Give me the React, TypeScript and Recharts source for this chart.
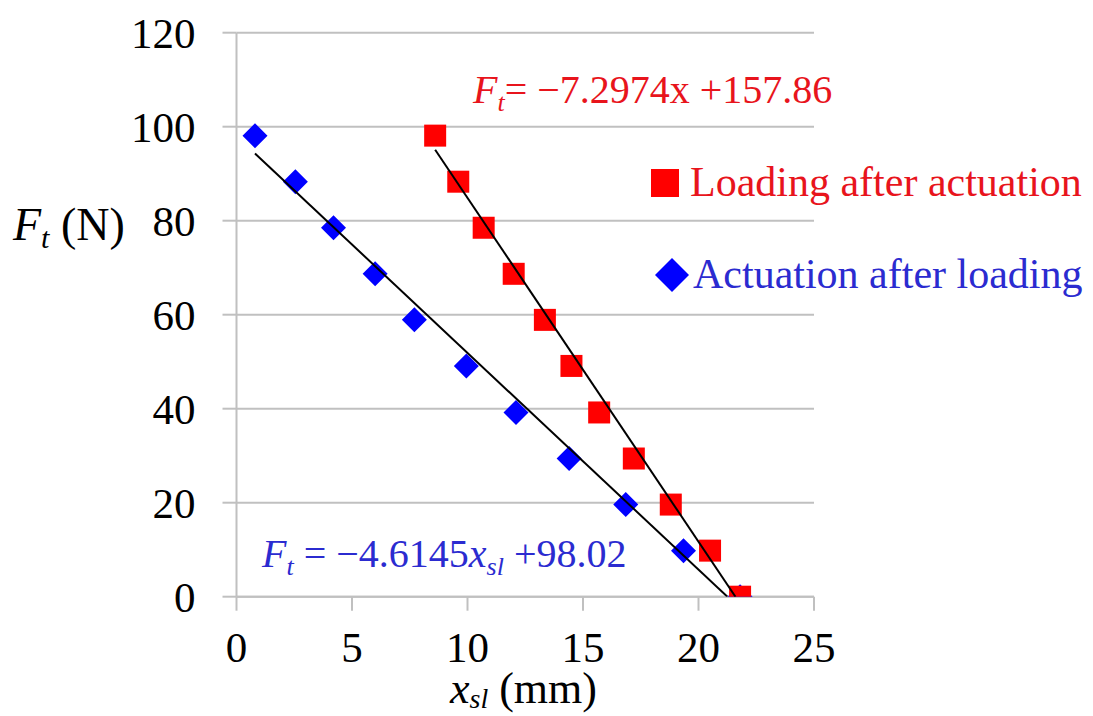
import React from 'react';
import { ScatterChart, Scatter, XAxis, YAxis, CartesianGrid } from 'recharts';

// Data
const forceValues = [98.1, 88.3, 78.5, 68.7, 58.9, 49.1, 39.2, 29.4, 19.6, 9.8, 0];
const blueXs = [0.8, 2.55, 4.2, 6.0, 7.7, 9.95, 12.1, 14.4, 16.85, 19.35, 21.8];
const redXs = [8.6, 9.6, 10.7, 12.0, 13.35, 14.5, 15.7, 17.2, 18.8, 20.5, 21.8];

// Trendline end points (as drawn in the picture)
const blueFitXs = [0.8, 21.25];
const blueFitYs = [94.3, 0];
const redFitXs = [8.6, 21.6];
const redFitYs = [95.1, 0];

const xTicks = [0, 5, 10, 15, 20, 25];
const yTicks = [0, 20, 40, 60, 80, 100, 120];

const blueData = blueXs.map((x, i) => ({ x, y: forceValues[i] }));
const redData = redXs.map((x, i) => ({ x, y: forceValues[i] }));
const blueFit = blueFitXs.map((x, i) => ({ x, y: blueFitYs[i] }));
const redFit = redFitXs.map((x, i) => ({ x, y: redFitYs[i] }));

const FONT = '"Liberation Serif", "Times New Roman", serif';
const GRID = '#c0c0c0';

const Square = (props: any) => {
  const { cx, cy } = props;
  if (cx == null || cy == null) return null;
  return <rect x={cx - 11} y={cy - 11} width={22} height={22} fill="#ff0000" />;
};

const Diamond = (props: any) => {
  const { cx, cy } = props;
  if (cx == null || cy == null) return null;
  const r = 12.5;
  return (
    <polygon
      points={`${cx},${cy - r} ${cx + r},${cy} ${cx},${cy + r} ${cx - r},${cy}`}
      fill="#0000ff"
    />
  );
};

const NoShape = () => null;

export default function App() {
  const W = 1093;
  const H = 716;
  return (
    <div style={{ position: 'absolute', left: 0, top: 0, width: W, height: H, background: '#fff' }}>
      <ScatterChart
        width={W}
        height={H}
        margin={{ top: 32.7, right: 279, bottom: 59.3, left: 0 }}
      >
        <CartesianGrid vertical={false} stroke={GRID} strokeWidth={2} />
        <XAxis
          type="number"
          dataKey="x"
          domain={[0, 25]}
          ticks={xTicks}
          height={60}
          tickSize={14}
          tickMargin={21}
          axisLine={{ stroke: GRID, strokeWidth: 2 }}
          tickLine={{ stroke: GRID, strokeWidth: 2 }}
          tick={{ fill: '#000', fontSize: 43, fontFamily: FONT }}
          allowDataOverflow
        />
        <YAxis
          type="number"
          dataKey="y"
          domain={[0, 120]}
          ticks={yTicks}
          width={236.5}
          tickSize={14}
          tickMargin={27}
          axisLine={{ stroke: GRID, strokeWidth: 2 }}
          tickLine={{ stroke: GRID, strokeWidth: 2 }}
          tick={{ fill: '#000', fontSize: 43, fontFamily: FONT }}
          allowDataOverflow
        />
        <Scatter data={blueData} shape={<Diamond />} isAnimationActive={false} />
        <Scatter data={redData} shape={<Square />} isAnimationActive={false} />
        <Scatter
          data={blueFit}
          shape={<NoShape />}
          line={{ stroke: '#000', strokeWidth: 2 }}
          isAnimationActive={false}
        />
        <Scatter
          data={redFit}
          shape={<NoShape />}
          line={{ stroke: '#000', strokeWidth: 2 }}
          isAnimationActive={false}
        />
      </ScatterChart>
      <svg
        width={W}
        height={H}
        style={{ position: 'absolute', left: 0, top: 0, pointerEvents: 'none' }}
        fontFamily={FONT}
      >
        {/* Y axis title */}
        <text x={13} y={240} fontSize={46} fill="#000">
          <tspan fontStyle="italic">F</tspan>
          <tspan fontStyle="italic" fontSize={30} dy={8}>t</tspan>
          <tspan dy={-8}> (N)</tspan>
        </text>
        {/* X axis title */}
        <text x={450} y={703} fontSize={44} fill="#000">
          <tspan fontStyle="italic">x</tspan>
          <tspan fontStyle="italic" fontSize={28} dy={5}>sl</tspan>
          <tspan dy={-5}> (mm)</tspan>
        </text>
        {/* Red equation */}
        <text x={473} y={103} fontSize={40} fill="#e8141c">
          <tspan fontStyle="italic">F</tspan>
          <tspan fontStyle="italic" fontSize={26} dy={8}>t</tspan>
          <tspan dy={-8}>= −7.2974x +157.86</tspan>
        </text>
        {/* Blue equation */}
        <text x={262} y={567} fontSize={40} fill="#2b2bd0">
          <tspan fontStyle="italic">F</tspan>
          <tspan fontStyle="italic" fontSize={26} dy={8}>t</tspan>
          <tspan dy={-8}> = −4.6145</tspan>
          <tspan fontStyle="italic">x</tspan>
          <tspan fontStyle="italic" fontSize={26} dy={8}>sl</tspan>
          <tspan dy={-8}> +98.02</tspan>
        </text>
        {/* Legend */}
        <rect x={651} y={169} width={28} height={28} fill="#ff0000" />
        <text x={690} y={196} fontSize={42} fill="#e8141c">Loading after actuation</text>
        <polygon points="672,258 689,275 672,292 655,275" fill="#0000ff" />
        <text x={693} y={288} fontSize={42} fill="#2b2bd0">Actuation after loading</text>
      </svg>
    </div>
  );
}
